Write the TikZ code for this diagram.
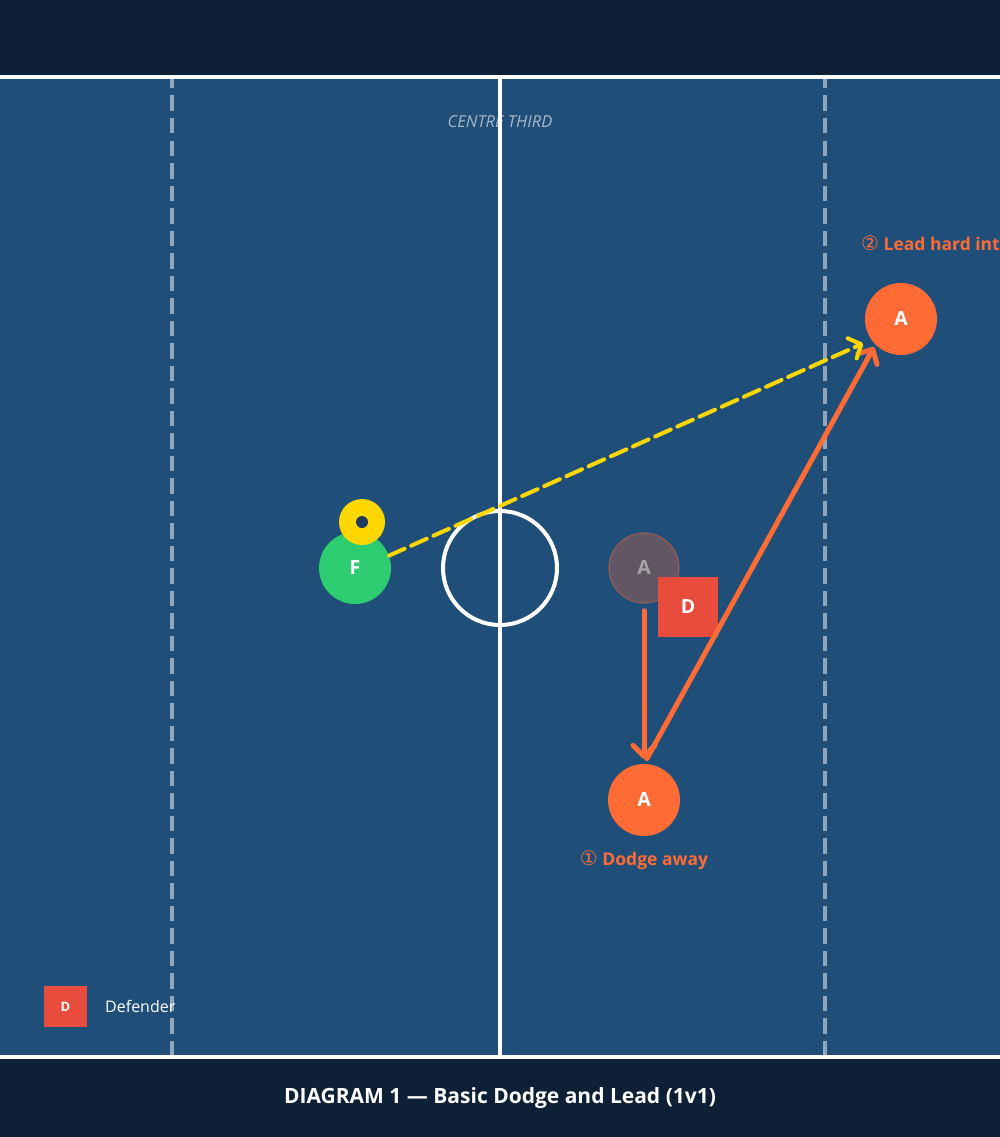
\documentclass[tikz,border=0pt]{standalone}
\usepackage{fontspec}
\setmainfont{Open Sans}
\newfontfamily\symfont{DejaVu Sans}
\usetikzlibrary{arrows.meta}
\definecolor{court}{HTML}{1F4E79}
\definecolor{band}{HTML}{0E2036}
\definecolor{attack}{HTML}{FF6B35}
\definecolor{feeder}{HTML}{2ECC71}
\definecolor{ballc}{HTML}{FFD700}
\definecolor{defend}{HTML}{E74C3C}
\definecolor{dotc}{HTML}{1E3A5F}
\newcommand\stepnum[1]{{\symfont\fontsize{20}{20}\selectfont\mdseries #1}}
\tikzset{
  player/.style={circle,minimum size=72pt,inner sep=0pt,text=white,
    font=\fontsize{19.5}{22}\selectfont\bfseries},
  defbox/.style={rectangle,fill=defend,minimum size=60pt,inner sep=0pt,text=white,
    font=\fontsize{19.5}{22}\selectfont\bfseries},
  thirdline/.style={white,opacity=0.5,line width=4pt,dash pattern=on 15.5pt off 7pt,dash phase=6pt},
  move/.style={attack,line width=5pt,line cap=round,
    -{Straight Barb[length=11pt,width=22pt,line width=5pt,round]}},
  pass/.style={ballc,line width=4pt,line cap=round,dash pattern=on 17pt off 7.3pt,
    -{Straight Barb[length=10pt,width=22pt,line width=4pt,round]}},
  note/.style={attack,font=\fontsize{17.5}{20}\selectfont\bfseries}
}
\begin{document}
\begin{tikzpicture}[x=1pt,y=-1pt]
\useasboundingbox (0,0) rectangle (1000,1137);
% court and bands
\fill[court] (0,0) rectangle (1000,1137);
\fill[band] (0,0) rectangle (1000,75);
\fill[band] (0,1059) rectangle (1000,1137);
\draw[white,line width=4pt] (0,77) -- (1000,77);
\draw[white,line width=4pt] (0,1057) -- (1000,1057);
% thirds
\draw[thirdline] (172,79) -- (172,1055);
\draw[thirdline] (825,79) -- (825,1055);
\node[white,opacity=0.6,font=\fontsize{16.5}{19}\selectfont\itshape] (third) at (500,122) {CENTRE THIRD};
\draw[white,line width=4pt] (500,79) -- (500,1055);
\draw[white,line width=4pt] (500,568) circle (57);
% players
\node[player,fill=feeder] (F) at (355,568) {F};
\node[circle,fill=ballc,minimum size=46pt,inner sep=0pt] (ball) at (362,522) {};
\node[circle,fill=dotc,minimum size=12pt,inner sep=0pt] at (ball) {};
\node[player,fill=attack,fill opacity=0.3,draw=attack,draw opacity=0.35,line width=1.5pt,
  text opacity=0.45,minimum size=70pt] (ghost) at (644,568) {A};
\node[defbox] (D) at (688,607) {D};
\node[player,fill=attack] (attB) at (644,800) {A};
\node[player,fill=attack] (attA) at (901,319) {A};
% movement
\draw[move,shorten <=7pt,shorten >=5pt] (ghost.south) -- (attB.north);
\draw[move,shorten <=6pt,shorten >=3pt] (attB.north) -- (attA.south west);
\draw[pass,shorten >=9pt] (F.20) -- (attA.215);
\node[note] (lab1) at (644,860) {\stepnum{①} Dodge away};
\node[note,anchor=west,inner sep=0pt] (lab2) at (861,243) {\stepnum{②} Lead hard int};
% legend
\node[defbox,minimum width=43pt,minimum height=41pt,font=\fontsize{13}{15}\selectfont\bfseries] (key) at (65.5,1006.5) {D};
\node[white,anchor=west,inner sep=0pt,font=\fontsize{16}{18}\selectfont] (keytext) at (105,1006) {Defender};
\node[white,font=\fontsize{21}{24}\selectfont\bfseries] (title) at (500,1098) {DIAGRAM 1 — Basic Dodge and Lead (1v1)};
\end{tikzpicture}
\end{document}
